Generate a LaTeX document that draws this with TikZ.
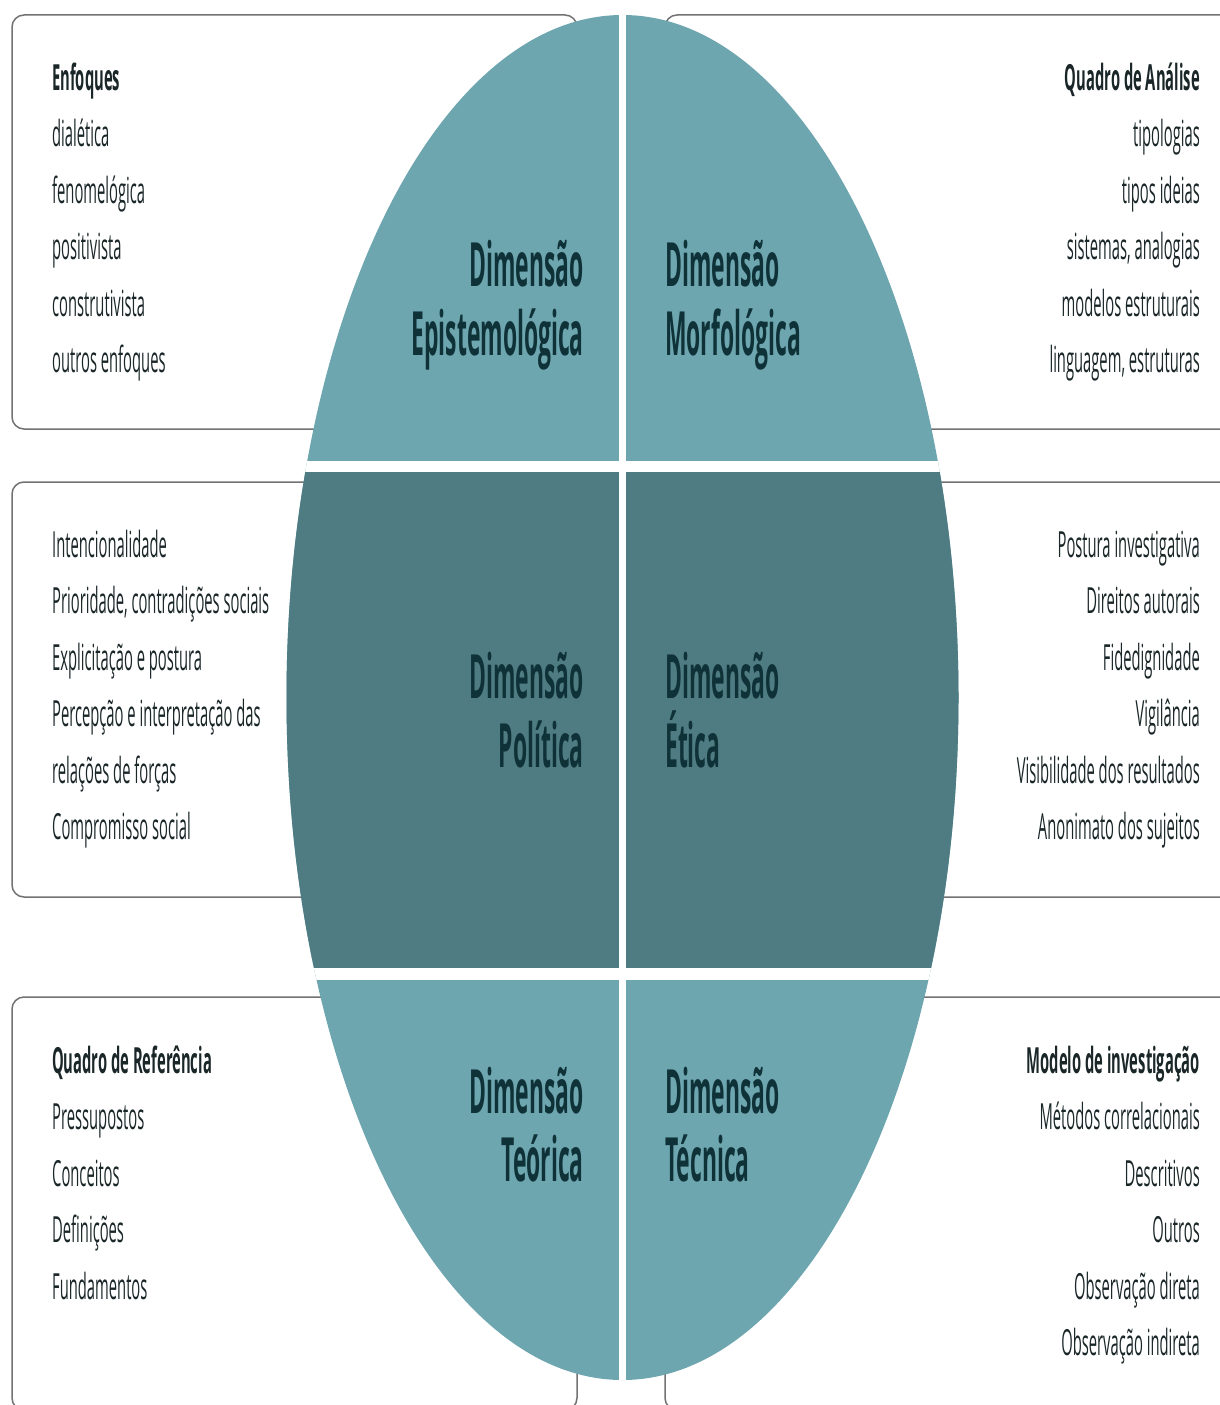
\documentclass[tikz,border=0pt]{standalone}
\usepackage{fontspec}
\setmainfont{Open Sans}[FakeStretch=0.41]
\newfontfamily\dimfont{Open Sans}[FakeStretch=0.375]
\usepackage{xcolor}
\usepackage{tikz}
\usetikzlibrary{positioning}

\definecolor{tealLight}{HTML}{6EA6B0}
\definecolor{tealDark}{HTML}{4F7C82}
\definecolor{inkText}{HTML}{1A2628}
\definecolor{inkDim}{HTML}{0F3238}
\definecolor{panelLine}{HTML}{727272}

\begin{document}
\begin{tikzpicture}[x=1pt, y=-1pt,
    panelbox/.style={draw=panelLine, line width=1.5pt, rounded corners=12pt},
    itemL/.style={anchor=base west, inner sep=0pt, text=inkText, font=\fontsize{36}{42}\selectfont},
    itemR/.style={itemL, anchor=base east},
    headL/.style={itemL, font=\fontsize{36}{42}\selectfont\bfseries},
    headR/.style={headL, anchor=base east},
    dimL/.style={anchor=base west, inner sep=0pt, text=inkDim, font=\dimfont\fontsize{61}{72}\selectfont\bfseries},
    dimR/.style={dimL, anchor=base east},
]
\useasboundingbox (0,0) rectangle (1219,1405);

% panels behind the ellipse
\draw[panelbox] (12,15) rectangle (577,429);
\draw[panelbox] (665,15) rectangle (1245,429);
\draw[panelbox] (12,482) rectangle (600,897);
\draw[panelbox] (640,482) rectangle (1245,897);
\draw[panelbox] (12,997) rectangle (577,1410);
\draw[panelbox] (665,997) rectangle (1245,1410);

% ellipse cut in six parts
\begin{scope}
\clip (622.5,697.5) ellipse [x radius=336pt, y radius=682.5pt];
\fill[tealLight] (0,0) rectangle (1219,1405);
\fill[tealDark] (0,472) rectangle (1219,968);
\fill[white] (619,0) rectangle (626,1405);
\fill[white] (0,461) rectangle (1219,472);
\fill[white] (0,968) rectangle (1219,980);
\end{scope}

% dimension labels
\node[dimR](epi_a) at (584,286) {Dimensão};
\node[dimR](epi_b) at (584,355) {Epistemológica};
\node[dimL](mor_a) at (665,286) {Dimensão};
\node[dimL](mor_b) at (665,355) {Morfológica};
\node[dimR](pol_a) at (584,698) {Dimensão};
\node[dimR](pol_b) at (584,767) {Política};
\node[dimL](eti_a) at (665,698) {Dimensão};
\node[dimL](eti_b) at (665,767) {Ética};
\node[dimR](teo_a) at (584,1113) {Dimensão};
\node[dimR](teo_b) at (584,1181) {Teórica};
\node[dimL](tec_a) at (665,1113) {Dimensão};
\node[dimL](tec_b) at (665,1181) {Técnica};

% top lists
\node[headL](enf_head) at (52,90) {Enfoques};
\foreach \txt [count=\i from 0] in {dialética, fenomelógica, positivista, construtivista, outros enfoques}
    \node[itemL](enf_\i) at (52,146.5+56.5*\i) {\txt};
\node[headR](ana_head) at (1200,90) {Quadro de Análise};
\foreach \txt [count=\i from 0] in {tipologias, tipos ideias, {sistemas, analogias}, modelos estruturais, {linguagem, estruturas}}
    \node[itemR](ana_\i) at (1200,146.5+56.5*\i) {\txt};

% middle lists
\foreach \txt [count=\i from 0] in {Intencionalidade, {Prioridade, contradições sociais}, Explicitação e postura, Percepção e interpretação das, relações de forças, Compromisso social}
    \node[itemL](pol_\i) at (52,557+56.5*\i) {\txt};
\foreach \txt [count=\i from 0] in {Postura investigativa, Direitos autorais, Fidedignidade, Vigilância, Visibilidade dos resultados, Anonimato dos sujeitos}
    \node[itemR](eti_\i) at (1200,557+56.5*\i) {\txt};

% bottom lists
\node[headL](ref_head) at (52,1073) {Quadro de Referência};
\foreach \txt [count=\i from 0] in {Pressupostos, Conceitos, Definições, Fundamentos}
    \node[itemL](ref_\i) at (52,1129.5+56.5*\i) {\txt};
\node[headR](inv_head) at (1200,1073) {Modelo de investigação};
\foreach \txt [count=\i from 0] in {Métodos correlacionais, Descritivos, Outros, Observação direta, Observação indireta}
    \node[itemR](inv_\i) at (1200,1129.5+56.5*\i) {\txt};
\end{tikzpicture}
\end{document}
